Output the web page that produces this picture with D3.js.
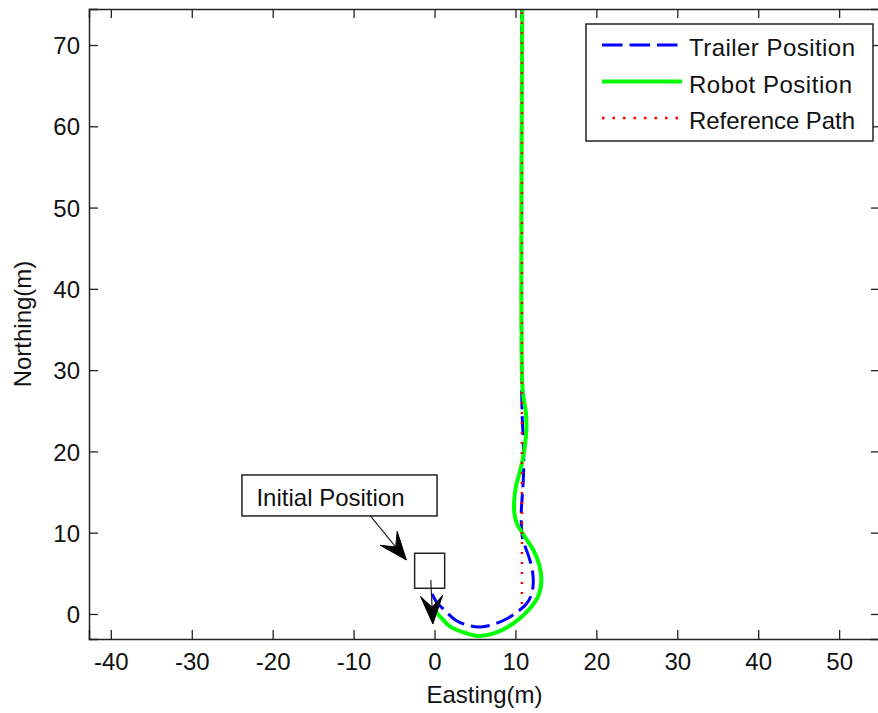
<!DOCTYPE html>
<html><head><meta charset="utf-8">
<script src="https://cdn.jsdelivr.net/npm/d3@7"></script>
<style>
html,body{margin:0;padding:0;background:#fff;}
text{font-family:"Liberation Sans",Arial,sans-serif;fill:#111;}
</style></head>
<body><svg id="chart" width="878" height="713"></svg>
<script>
// ---- data ----
const xTicks = [-40,-30,-20,-10,0,10,20,30,40,50];
const yTicks = [0,10,20,30,40,50,60,70];
const seriesNames = ["Trailer Position","Robot Position","Reference Path"];
const trailerE = [-0.3,0.22,1.09,2.57,4.18,5.66,7.27,8.87,10.23,11.34,11.96,12.2,12.08,11.7,11.22,10.85,10.73,10.73,10.85,10.97,11.03,10.97,10.85,10.79,10.75,10.75];
const trailerN = [2.46,1.48,0.62,-0.74,-1.41,-1.6,-1.29,-0.62,0.25,1.23,2.34,3.81,5.41,6.89,8.24,9.47,10.95,12.8,14.64,16.48,18.94,21.4,23.87,26.3,28.8,76];
const robotE = [0.1,0.31,1.09,1.95,3.81,5.41,7.51,10.0,11.84,12.83,13.2,12.95,12.2,11.1,10.2,9.85,9.85,10.1,10.6,11.1,11.35,11.3,11.0,10.85,10.85];
const robotN = [0.6,0.12,-0.74,-1.56,-2.34,-2.71,-2.34,-0.98,0.74,2.21,4.18,6.03,7.87,9.6,11.07,12.55,14.0,15.87,17.7,20.2,22.6,24.7,26.6,28.2,76];
const refE = [10.8,10.8];
const refN = [1.23,76];
const annotationText = "Initial Position";

// ---- layout ----
const svg = d3.select("#chart");
const L=89, R=880, T=9, B=639;
const x = d3.scaleLinear().domain([-42.7,55.05]).range([L,R]);
const y = d3.scaleLinear().domain([-3.08,74.43]).range([B,T]);

svg.append("rect").attr("width",878).attr("height",713).attr("fill","#fff");
svg.append("defs").append("clipPath").attr("id","clip")
  .append("rect").attr("x",L).attr("y",T).attr("width",R-L).attr("height",B-T);

const plot = svg.append("g").attr("clip-path","url(#clip)");
const line = d3.line().x(d=>x(d[0])).y(d=>y(d[1])).curve(d3.curveCatmullRom.alpha(0.5));
const zip = (a,b)=>a.map((v,i)=>[v,b[i]]);

plot.append("path").attr("d",line(zip(trailerE,trailerN))).attr("fill","none")
  .attr("stroke","#0000ff").attr("stroke-width",3).attr("stroke-dasharray","19,7");
plot.append("path").attr("d",line(zip(robotE,robotN))).attr("fill","none")
  .attr("stroke","#00ff00").attr("stroke-width",4);
plot.append("path").attr("d",d3.line().x(d=>x(d[0])).y(d=>y(d[1]))(zip(refE,refN))).attr("fill","none")
  .attr("stroke","#ff0000").attr("stroke-width",2.5).attr("stroke-dasharray","2,8");

// ---- axes ----
const fmt = d => String(d);
const axG = svg.append("g");
const gBottom = axG.append("g").attr("transform",`translate(0,${B})`)
  .call(d3.axisBottom(x).tickValues(xTicks).tickSize(-9).tickPadding(0).tickFormat(fmt));
axG.append("g").attr("transform",`translate(0,${T})`)
  .call(d3.axisTop(x).tickValues(xTicks).tickSize(-9).tickFormat(""));
const gLeft = axG.append("g").attr("transform",`translate(${L},0)`)
  .call(d3.axisLeft(y).tickValues(yTicks).tickSize(-9).tickFormat(fmt));
axG.append("g").attr("transform",`translate(${R},0)`)
  .call(d3.axisRight(y).tickValues(yTicks).tickSize(-9).tickFormat(""));
axG.selectAll(".domain").attr("stroke","#222").attr("stroke-width",1.5);
axG.selectAll(".tick line").attr("stroke","#222").attr("stroke-width",1.3);
axG.selectAll("text").attr("font-size",24).attr("fill","#111")
  .attr("font-family","'Liberation Sans',Arial,sans-serif");
gBottom.selectAll(".tick text").attr("y",31).attr("dy",0);
gLeft.selectAll(".tick text").attr("x",-9).attr("dy","0.36em");

svg.append("text").attr("x",(L+R)/2).attr("y",703).attr("text-anchor","middle")
  .attr("font-size",24).text("Easting(m)");
svg.append("text").attr("transform",`translate(31,${(T+B)/2}) rotate(-90)`).attr("text-anchor","middle")
  .attr("font-size",24).text("Northing(m)");

// ---- legend ----
const lg = svg.append("g");
lg.append("rect").attr("x",586).attr("y",24).attr("width",287).attr("height",117)
  .attr("fill","#fff").attr("stroke","#222").attr("stroke-width",1.5);
const lgStyles = [
  {c:"#0000ff",w:3,da:"20.5,7"},
  {c:"#00ff00",w:4,da:null},
  {c:"#ff0000",w:2.5,da:"2.5,8"}
];
seriesNames.forEach((n,i)=>{
  const cy = 45 + i*36.5;
  const s = lgStyles[i];
  const l = lg.append("line").attr("x1",602).attr("x2",682).attr("y1",cy).attr("y2",cy)
    .attr("stroke",s.c).attr("stroke-width",s.w);
  if(s.da) l.attr("stroke-dasharray",s.da);
  lg.append("text").attr("x",689).attr("y",cy+11).attr("font-size",24)
    .attr("textLength",[166,163,166][i]).attr("lengthAdjust","spacing").text(n);
});

// ---- annotation ----
const ann = svg.append("g");
const bx0=x(-23.8), bx1=x(0.31), by0=y(17.1), by1=y(12.06);
ann.append("rect").attr("x",bx0).attr("y",by0).attr("width",bx1-bx0).attr("height",by1-by0)
  .attr("fill","#fff").attr("stroke","#222").attr("stroke-width",1.5);
ann.append("text").attr("x",bx0+14.5).attr("y",by0+31).attr("font-size",24).text(annotationText);

const sx0=x(-2.46), sx1=x(1.25), sy0=y(7.47), sy1=y(3.16);
ann.append("rect").attr("x",sx0).attr("y",sy0).attr("width",sx1-sx0).attr("height",sy1-sy0)
  .attr("fill","none").attr("stroke","#222").attr("stroke-width",1.5);

function arrow(e0,n0,e1,n1,len,wid){
  const x0=x(e0),y0=y(n0),x1=x(e1),y1=y(n1);
  const dx=x1-x0, dy=y1-y0, d=Math.hypot(dx,dy), ux=dx/d, uy=dy/d, px=-uy, py=ux;
  ann.append("line").attr("x1",x0).attr("y1",y0).attr("x2",x1-ux*len*0.5).attr("y2",y1-uy*len*0.5)
    .attr("stroke","#222").attr("stroke-width",1.2);
  const bx=x1-ux*len, by=y1-uy*len;
  const nx=x1-ux*len*0.6, ny=y1-uy*len*0.6;
  const pts=[[x1,y1],[bx+px*wid/2,by+py*wid/2],[nx,ny],[bx-px*wid/2,by-py*wid/2]];
  ann.append("path").attr("d","M"+pts.map(p=>p.join(",")).join("L")+"Z").attr("fill","#000")
    .attr("stroke","#000").attr("stroke-width",1).attr("stroke-linejoin","round");
}
arrow(-7.93,12.06,-3.48,6.64,28,22);
arrow(-0.46,4.18,-0.21,-1.23,28,22);
</script></body></html>
